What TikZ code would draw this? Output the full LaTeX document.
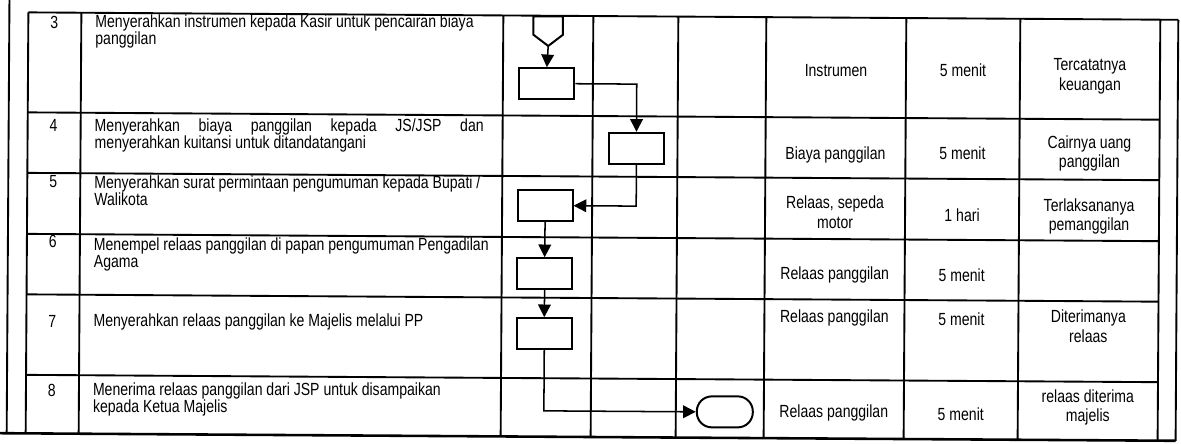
\documentclass[tikz,border=0pt]{standalone}
\usepackage{fontspec}
\setmainfont{Liberation Sans}[FakeStretch=0.8]
\usetikzlibrary{arrows.meta,calc}

\begin{document}
\begin{tikzpicture}[
  x=0.03cm, y=-0.03cm, >={Triangle[length=0.38cm,width=0.38cm]},
  grid/.style={line width=1.6pt},
  proc/.style={draw, line width=1.7pt, minimum width=1.65cm, minimum height=0.93cm, inner sep=0},
  term/.style={draw, line width=1.7pt, rounded corners=0.45cm,
               minimum width=1.68cm, minimum height=0.93cm, inner sep=0},
  conn/.style={minimum width=0.87cm, minimum height=0.87cm, inner sep=0},
  arr/.style={->, line width=1.3pt},
  num/.style={anchor=base, inner sep=0, font=\fontsize{15}{14.5}\selectfont},
  desc/.style={anchor=base west, align=left, inner sep=0, font=\fontsize{15}{14.5}\selectfont},
  info/.style={align=center, inner sep=0, font=\fontsize{15}{16.6}\selectfont},
]
\useasboundingbox (0,0) rectangle (1181,443);

% lembar hasil pindai sedikit miring
\begin{scope}[rotate around={-0.37:(590,225)}]
% bingkai luar dan garis tabel
\draw[grid] (8,0) -- (8,437);
\draw[line width=2.2pt] (0,437) -- (1177,437);
\draw[grid] (1177,16) -- (1177,437);
\draw[grid] (27,16) -- (1177,16);
\foreach \y in {116,176.5,237.5,298,378.5}
  \draw[grid] (27,\y) -- (1159,\y);
\foreach \x in {27,80,502,592,677,765,905,1019,1159}
  \draw[grid] (\x,16) -- (\x,437);

% nomor dan uraian kegiatan
\node[num] (n3) at (53,31.5)  {3};
\node[num] (n4) at (53,134.5) {4};
\node[num] (n5) at (53,190.5) {5};
\node[num] (n6) at (53,250.5) {6};
\node[num] (n7) at (53,330.5) {7};
\node[num] (n8) at (53,399.5) {8};

\node[desc] (d3) at (94,48)  {Menyerahkan instrumen kepada Kasir untuk pencairan biaya\\panggilan};
\node[desc] (d4) at (94,152) {\makebox[11.67cm][s]{Menyerahkan biaya panggilan kepada JS/JSP dan}\\menyerahkan kuitansi untuk ditandatangani};
\node[desc] (d5) at (94,209) {Menyerahkan surat permintaan pengumuman kepada Bupati /\\Walikota};
\node[desc] (d6) at (94,271) {Menempel relaas panggilan di papan pengumuman Pengadilan\\Agama};
\node[desc] (d7) at (94,330) {Menyerahkan relaas panggilan ke Majelis melalui PP};
\node[desc] (d8) at (94,416) {Menerima relaas panggilan dari JSP untuk disampaikan\\kepada Ketua Majelis};

% kelengkapan, waktu, output
\node[info] (k3) at (835,68.5)  {Instrumen};
\node[info] (w3) at (962,67.5)  {5 menit};
\node[info] (o3) at (1089,73)   {Tercatatnya\\keuangan};
\node[info] (k4) at (835,153)   {Biaya panggilan};
\node[info] (w4) at (962,150.5) {5 menit};
\node[info] (o4) at (1089,150)  {Cairnya uang\\panggilan};
\node[info] (k5) at (835,210.5) {Relaas, sepeda\\motor};
\node[info] (w5) at (962,212.5) {1 hari};
\node[info] (o5) at (1089,213)  {Terlaksananya\\pemanggilan};
\node[info] (k6) at (835,273)   {Relaas panggilan};
\node[info] (w6) at (962,272.5) {5 menit};
\node[info] (k7) at (835,316)   {Relaas panggilan};
\node[info] (w7) at (962,316.5) {5 menit};
\node[info] (o7) at (1089,323)  {Diterimanya\\relaas};
\node[info] (k8) at (835,411)   {Relaas panggilan};
\node[info] (w8) at (962,411.5) {5 menit};
\node[info] (o8) at (1089,404)  {relaas diterima\\majelis};

% simbol alur
\node[conn] (c3)   at (547,31.5) {};
\draw[line width=1.7pt] (c3.north west) -- (c3.north east)
  -- ($(c3.north east)!0.62!(c3.south east)$) -- (c3.south)
  -- ($(c3.north west)!0.62!(c3.south west)$) -- cycle;
\node[proc] (p3)   at (546,84)   {};
\node[proc] (p4)   at (636,148)  {};
\node[proc] (p5)   at (545,206)  {};
\node[proc] (p6)   at (545,274)  {};
\node[proc] (p7)   at (545,334)  {};
\node[term] (end8) at (726,411)  {};

\draw[arr] (c3.south) -- (p3.north);
\draw[arr] (p3.east) -| (p4.north);
\draw[arr] (p4.south) |- (p5.east);
\draw[arr] (p5.south) -- (p6.north);
\draw[arr] (p6.south) -- (p7.north);
\draw[arr] (p7.south) |- (end8.west);
\end{scope}
\end{tikzpicture}
\end{document}
